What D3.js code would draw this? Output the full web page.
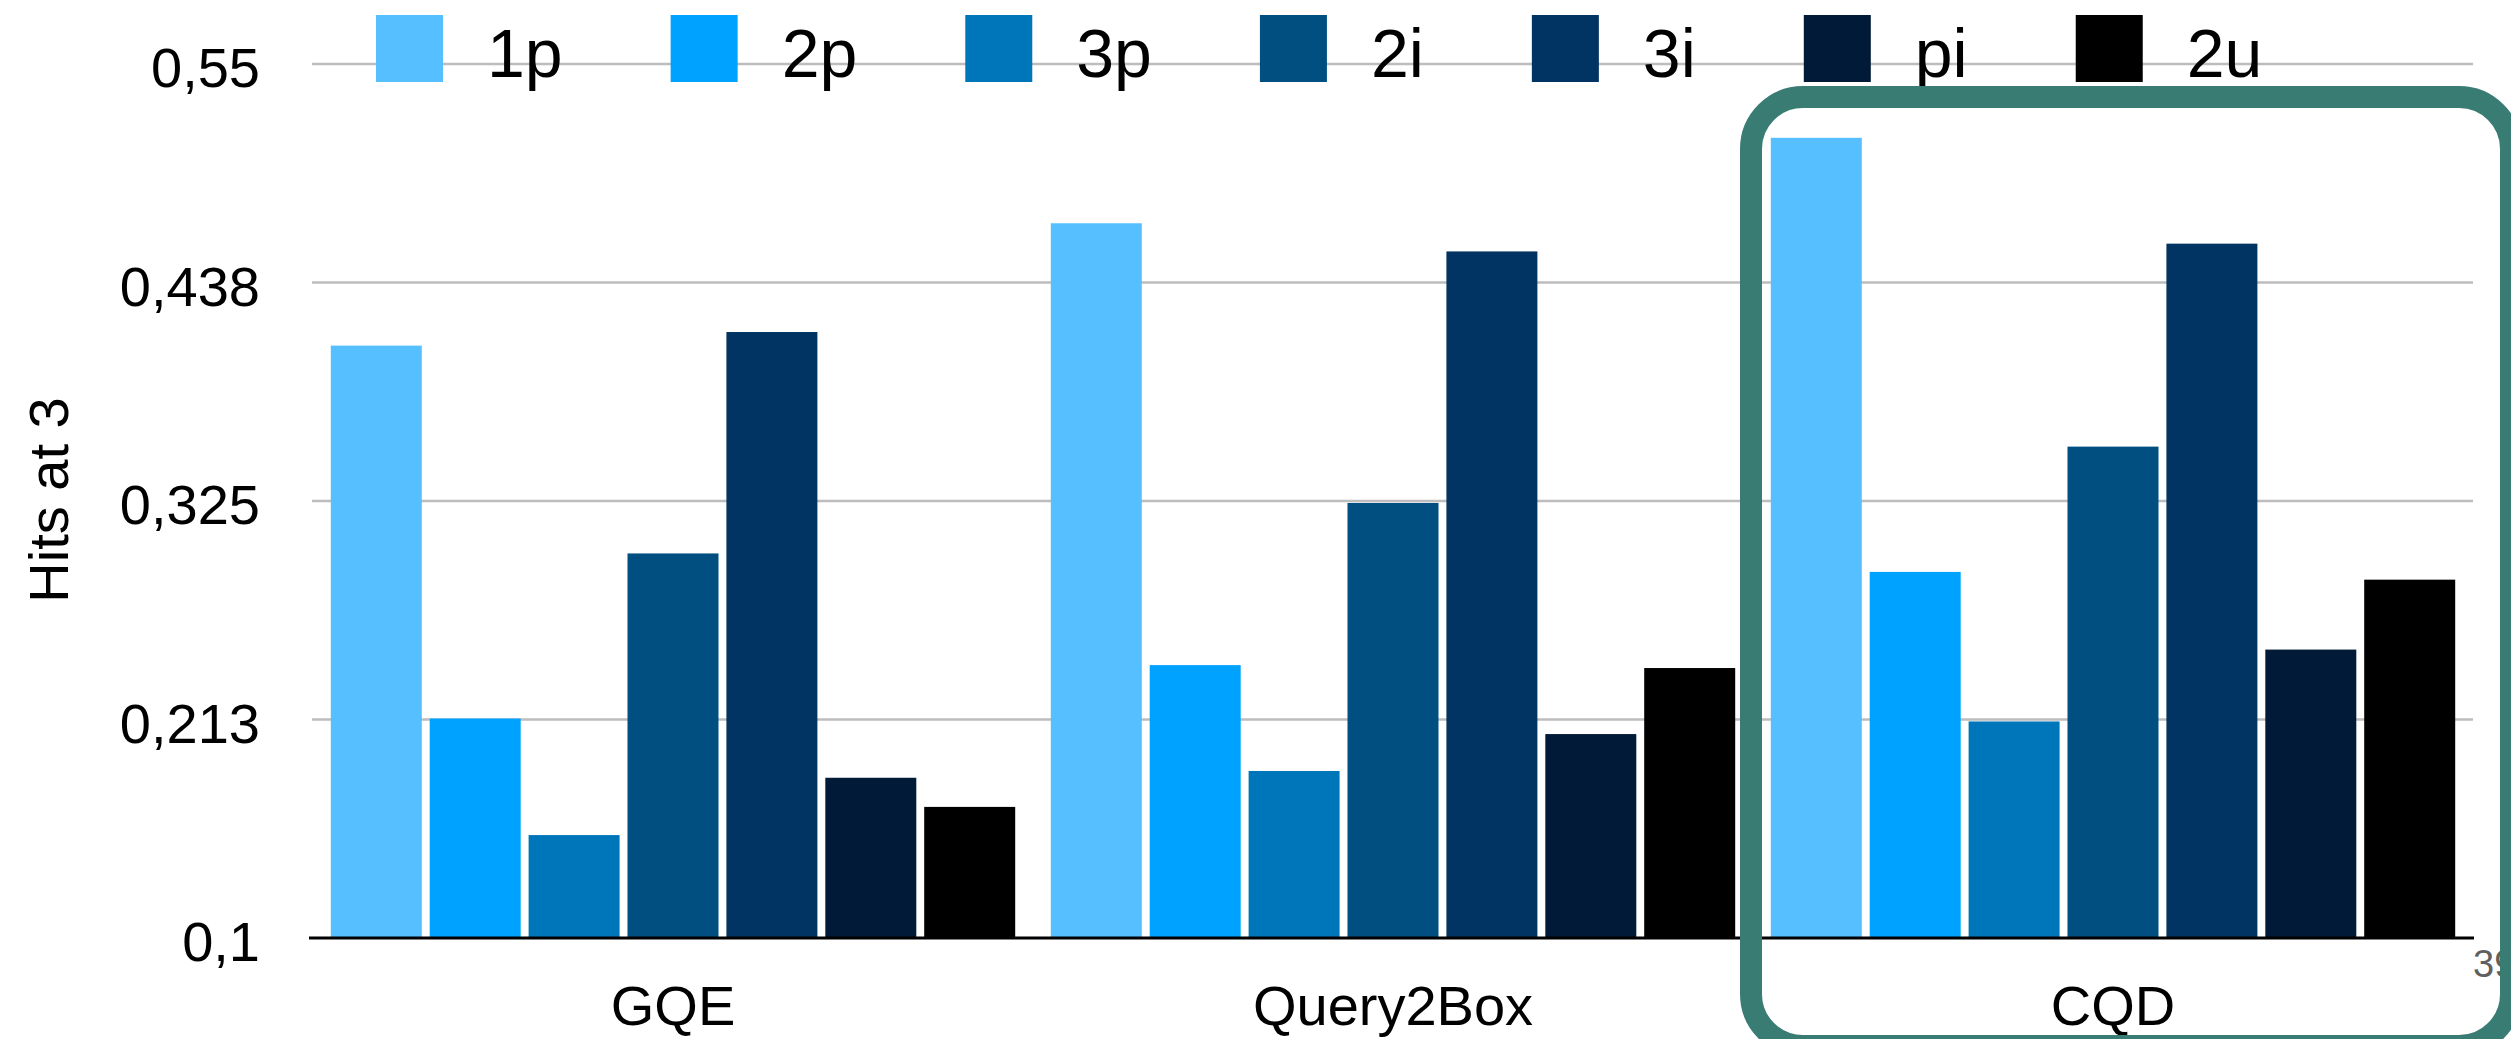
<!DOCTYPE html>
<html>
<head>
<meta charset="utf-8">
<script src="https://cdn.jsdelivr.net/npm/d3@7"></script>
<style>
  html, body { margin: 0; padding: 0; background: #fff; }
  svg { display: block; }
  text { font-family: "Liberation Sans", Arial, Helvetica, sans-serif; }
</style>
</head>
<body>
<svg id="chart" width="2511" height="1039"></svg>
<script>
// Query structures (series) and models (categories)
const categories = ["GQE", "Query2Box", "CQD"];
const seriesNames = ["1p", "2p", "3p", "2i", "3i", "pi", "2u"];

// Hits@3 per query structure, one value per model (GQE, Query2Box, CQD)
const hits1p = [0.405, 0.468, 0.512];
const hits2p = [0.213, 0.2405, 0.2885];
const hits3p = [0.153, 0.186, 0.2115];
const hits2i = [0.298, 0.324, 0.353];
const hits3i = [0.412, 0.4535, 0.4575];
const hitsPi = [0.1825, 0.205, 0.2485];
const hits2u = [0.1675, 0.239, 0.2845];

const seriesValues = [hits1p, hits2p, hits3p, hits2i, hits3i, hitsPi, hits2u];
const seriesColors = ["#56BFFF", "#00A2FF", "#0076BA", "#014F80", "#013463", "#001A37", "#000000"];

const tickValues = [0.1, 0.2125, 0.325, 0.4375, 0.55];
const tickLabels = ["0,1", "0,213", "0,325", "0,438", "0,55"];
const yTitle = "Hits at 3";
const pageNumber = "39";

const svg = d3.select("#chart");
svg.append("rect").attr("width", 2511).attr("height", 1039).attr("fill", "#fff");

const plot = { left: 309, right: 2473, top: 64, bottom: 938 };

const y = d3.scaleLinear().domain([0.1, 0.55]).range([plot.bottom, plot.top]);
const x0 = d3.scaleBand().domain(categories).range([313, 2473]).padding(0);
const x1 = d3.scaleBand().domain(seriesNames).range([0, x0.bandwidth()])
  .paddingInner(0.08).paddingOuter(0.18);

// Horizontal gridlines
svg.append("g").selectAll("line")
  .data(tickValues.slice(1))
  .join("line")
  .attr("x1", 312).attr("x2", plot.right)
  .attr("y1", d => y(d)).attr("y2", d => y(d))
  .attr("stroke", "#bdbdbd").attr("stroke-width", 2.5);

// Bars
const rows = [];
categories.forEach((c, ci) => {
  seriesNames.forEach((s, si) => rows.push({ cat: c, series: s, value: seriesValues[si][ci], color: seriesColors[si] }));
});
svg.append("g").selectAll("rect")
  .data(rows)
  .join("rect")
  .attr("x", d => x0(d.cat) + x1(d.series))
  .attr("width", x1.bandwidth())
  .attr("y", d => y(d.value))
  .attr("height", d => y(0.1) - y(d.value))
  .attr("fill", d => d.color);

// Baseline
svg.append("line")
  .attr("x1", plot.left).attr("x2", plot.right + 1)
  .attr("y1", y(0.1)).attr("y2", y(0.1))
  .attr("stroke", "#000").attr("stroke-width", 3);

// Y axis labels
const yAxis = d3.axisLeft(y)
  .tickValues(tickValues)
  .tickFormat((d, i) => tickLabels[i])
  .tickSize(0)
  .tickPadding(49);
const yg = svg.append("g").attr("transform", `translate(${plot.left},0)`).call(yAxis);
yg.select(".domain").remove();
yg.selectAll("text")
  .attr("font-size", 56)
  .attr("font-family", "Liberation Sans, Arial, sans-serif")
  .attr("fill", "#000")
  .attr("dy", "0.41em");

// Y axis title
svg.append("text")
  .attr("transform", "translate(68,500) rotate(-90)")
  .attr("text-anchor", "middle")
  .attr("font-size", 56)
  .attr("fill", "#000")
  .text(yTitle);

// X axis labels
const xAxis = d3.axisBottom(x0).tickSize(0).tickPadding(0);
const xg = svg.append("g").attr("transform", "translate(0,1025)").call(xAxis);
xg.select(".domain").remove();
xg.selectAll("text")
  .attr("font-size", 56)
  .attr("font-family", "Liberation Sans, Arial, sans-serif")
  .attr("fill", "#000")
  .attr("y", 0)
  .attr("dy", 0);

// Legend
const legend = svg.append("g");
let lx = 376;
seriesNames.forEach((s, i) => {
  legend.append("rect")
    .attr("x", lx).attr("y", 15)
    .attr("width", 67).attr("height", 67)
    .attr("fill", seriesColors[i]);
  const t = legend.append("text")
    .attr("x", lx + 111).attr("y", 77)
    .attr("font-size", 68)
    .attr("fill", "#000")
    .text(s);
  lx += 111 + t.node().getComputedTextLength() + 108;
});

// Page number
svg.append("text")
  .attr("x", 2473).attr("y", 977)
  .attr("font-size", 38)
  .attr("fill", "#5f5f5f")
  .text(pageNumber);

// Highlight frame around CQD
svg.append("rect")
  .attr("x", 1751).attr("y", 97)
  .attr("width", 760).attr("height", 949)
  .attr("rx", 52).attr("ry", 52)
  .attr("fill", "none")
  .attr("stroke", "#387C74")
  .attr("stroke-width", 22);
</script>
</body>
</html>
